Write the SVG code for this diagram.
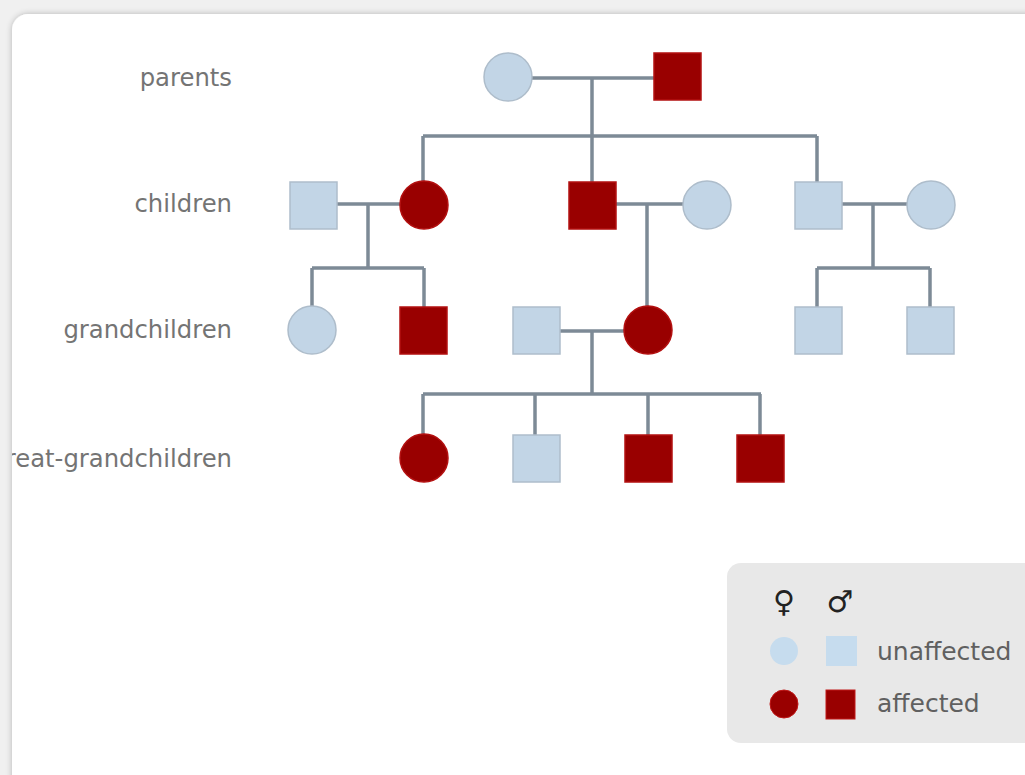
<svg xmlns="http://www.w3.org/2000/svg" width="1025" height="775" viewBox="0 0 1025 775">
<defs>
<style>
.lbl{font-family:"DejaVu Sans",sans-serif;font-size:24.3px;fill:#747474;text-anchor:end}
.leg{font-family:"DejaVu Sans",sans-serif;font-size:25px;fill:#606060}
.sym{font-family:"DejaVu Sans",sans-serif;font-size:30px;fill:#222;text-anchor:middle}
.u{fill:#c2d5e6;stroke:#aebdcb;stroke-width:1.5}
.a{fill:#990000;stroke:#b31010;stroke-width:1.5}
.ln{fill:none;stroke:#7d8a96;stroke-width:3.5}
</style>
<filter id="sh" x="-5%" y="-5%" width="110%" height="110%">
<feGaussianBlur in="SourceAlpha" stdDeviation="3"/>
<feOffset dx="0" dy="0"/>
<feComponentTransfer><feFuncA type="linear" slope="0.25"/></feComponentTransfer>
<feMerge><feMergeNode/><feMergeNode in="SourceGraphic"/></feMerge>
</filter>
<clipPath id="panelclip"><rect x="12" y="14" width="1040" height="800" rx="16"/></clipPath>
</defs>
<rect width="1025" height="775" fill="#f0f0f0"/>
<rect x="12" y="14" width="1040" height="800" rx="16" fill="#ffffff" filter="url(#sh)"/>
<g clip-path="url(#panelclip)">
<g id="labels">
<text class="lbl" x="232" y="86">parents</text>
<text class="lbl" x="232" y="212">children</text>
<text class="lbl" x="232" y="338">grandchildren</text>
<text class="lbl" x="232" y="467">great-grandchildren</text>
</g>
<g id="connectors">
<path class="ln" d="M532 78 H654 M592 78 V184 M423 136 H817 M423 136 V182 M817 136 V182"/>
<path class="ln" d="M336 204 H400 M368 204 V268 M312 268 H424 M312 268 V306 M424 268 V307"/>
<path class="ln" d="M615 204 H683 M647 204 V306"/>
<path class="ln" d="M841 204 H907 M873 204 V268 M817 268 H930 M817 268 V307 M930 268 V307"/>
<path class="ln" d="M560 331 H624 M592 331 V394 M423 394 H761 M423 394 V434 M535 394 V435 M648 394 V435 M760 394 V435"/>
</g>
<g id="n-parent-mother"><circle class="u" cx="508" cy="77" r="24"/></g>
<g id="n-parent-father"><rect class="a" x="654" y="53" width="47" height="47"/></g>
<g id="n-child1-spouse"><rect class="u" x="290" y="182" width="47" height="47"/></g>
<g id="n-child1"><circle class="a" cx="424" cy="205" r="24"/></g>
<g id="n-child2"><rect class="a" x="569" y="182" width="47" height="47"/></g>
<g id="n-child2-spouse"><circle class="u" cx="707" cy="205" r="24"/></g>
<g id="n-child3"><rect class="u" x="795" y="182" width="47" height="47"/></g>
<g id="n-child3-spouse"><circle class="u" cx="931" cy="205" r="24"/></g>
<g id="n-gc1"><circle class="u" cx="312" cy="330" r="24"/></g>
<g id="n-gc2"><rect class="a" x="400" y="307" width="47" height="47"/></g>
<g id="n-gc3-spouse"><rect class="u" x="513" y="307" width="47" height="47"/></g>
<g id="n-gc3"><circle class="a" cx="648" cy="330" r="24"/></g>
<g id="n-gc4"><rect class="u" x="795" y="307" width="47" height="47"/></g>
<g id="n-gc5"><rect class="u" x="907" y="307" width="47" height="47"/></g>
<g id="n-ggc1"><circle class="a" cx="424" cy="458" r="24"/></g>
<g id="n-ggc2"><rect class="u" x="513" y="435" width="47" height="47"/></g>
<g id="n-ggc3"><rect class="a" x="625" y="435" width="47" height="47"/></g>
<g id="n-ggc4"><rect class="a" x="737" y="435" width="47" height="47"/></g>
<g id="legend">
<rect x="727" y="563" width="330" height="180" rx="14" fill="#e8e8e8"/>
<text class="sym" x="784" y="612">♀</text>
<text class="sym" x="840" y="612">♂</text>
<circle cx="784" cy="651" r="14" fill="#c6dcee"/>
<rect x="826" y="636" width="31" height="30" fill="#c6dcee"/>
<text class="leg" x="877" y="660">unaffected</text>
<circle cx="784" cy="704" r="14" fill="#990000" stroke="#c01818" stroke-width="1"/>
<rect x="826" y="690" width="29" height="29" fill="#990000" stroke="#c01818" stroke-width="1"/>
<text class="leg" x="877" y="712">affected</text>
</g>
</g>
</svg>
